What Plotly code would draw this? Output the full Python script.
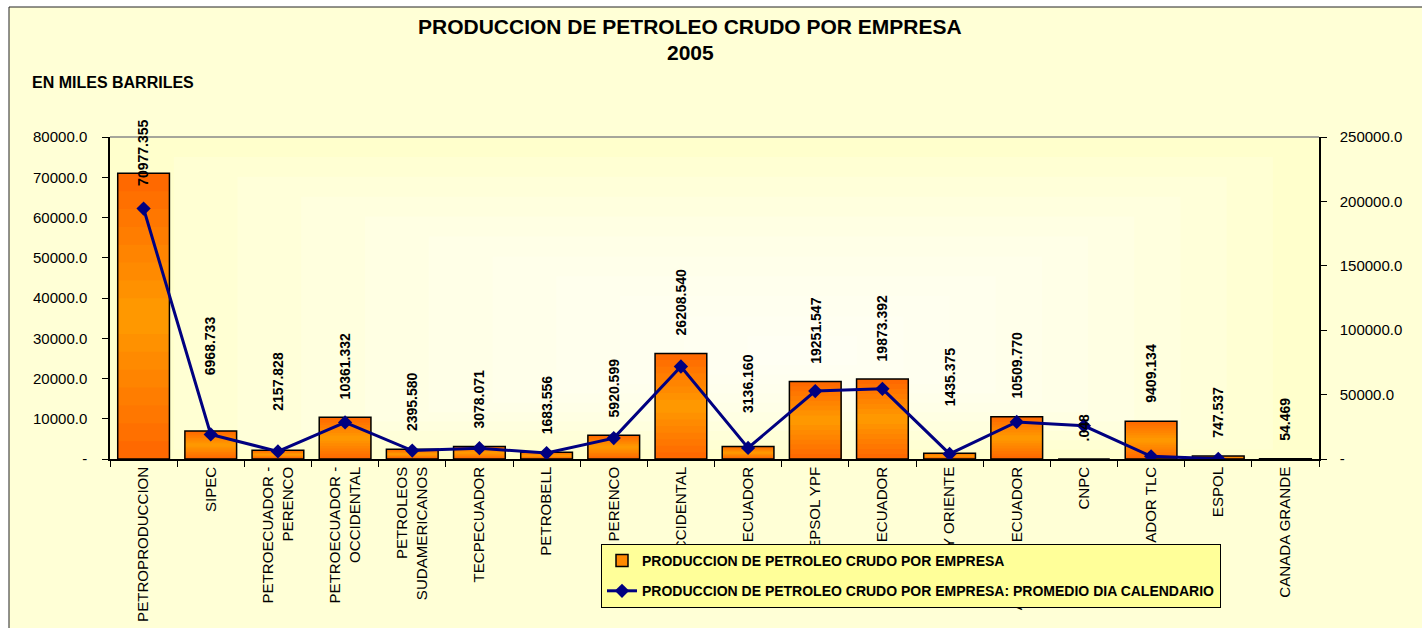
import plotly.graph_objects as go

# ---------------- data ----------------
companies = [
    "PETROPRODUCCION", "SIPEC", "PETROECUADOR -<br>PERENCO", "PETROECUADOR -<br>OCCIDENTAL",
    "PETROLEOS<br>SUDAMERICANOS", "TECPECUADOR", "PETROBELL", "PERENCO", "OCCIDENTAL",
    "ENCAN ECUADOR", "REPSOL YPF", "ANDES ECUADOR", "CITY ORIENTE", "AGIP OIL ECUADOR",
    "CNPC", "ECUADOR TLC", "ESPOL", "CANADA GRANDE",
]
produccion_miles_barriles = [
    70977.355, 6968.733, 2157.828, 10361.332, 2395.580, 3078.071, 1683.556, 5920.599,
    26208.540, 3136.160, 19251.547, 19873.392, 1435.375, 10509.770, 0.048, 9409.134,
    747.537, 54.469,
]
promedio_dia_calendario = [
    194458.5, 19092.4, 5911.9, 28387.2, 6563.2, 8433.1, 4612.5, 16220.8,
    71804.2, 8592.2, 52744.0, 54447.6, 3932.5, 28793.9, 25778.4, 2048.0,
    149.2, None,
]
left_tick_values = [0, 10000, 20000, 30000, 40000, 50000, 60000, 70000, 80000]
left_tick_labels = ["-", "10000.0", "20000.0", "30000.0", "40000.0", "50000.0",
                    "60000.0", "70000.0", "80000.0"]
right_tick_values = [0, 50000, 100000, 150000, 200000, 250000]
right_tick_labels = ["-", "50000.0", "100000.0", "150000.0", "200000.0", "250000.0"]

title_line1 = "PRODUCCION DE PETROLEO CRUDO POR EMPRESA"
title_line2 = "2005"
units_label = "EN MILES BARRILES"
bar_name = "PRODUCCION DE PETROLEO CRUDO POR EMPRESA"
line_name = "PRODUCCION DE PETROLEO CRUDO POR EMPRESA: PROMEDIO DIA CALENDARIO"

# ---------------- style ----------------
FONT = "Arial, Liberation Sans, Helvetica, sans-serif"
W, H = 1422, 628
ML, MR, MT, MB = 110, 103, 137, 169
PW, PH = W - ML - MR, H - MT - MB

def px_x(p):
    return (p - ML) / PW

def px_y(p):
    return (H - MB - p) / PH

label_gap = 16
label_gap_override = {0: -15, 1: 54, 2: 38, 9: 31, 12: 45}

DARK = (255, 102, 0)
LIGHT = (255, 155, 0)
N_BANDS = 16

def grad_color(t):
    # t: relative height in bar (0 bottom .. 1 top); light in middle, dark at ends
    a = min(1.0, abs(t - 0.5) * 2)
    r = [round(LIGHT[i] + (DARK[i] - LIGHT[i]) * a) for i in range(3)]
    return f"rgb({r[0]},{r[1]},{r[2]})"

def fmt(v):
    s = f"{v:.3f}"
    if s.startswith("0."):
        s = s[1:]
    return s

fig = go.Figure()

# gradient-filled bars: nested bars from the full value down, each in a band colour
for k in range(N_BANDS):
    frac = (N_BANDS - k) / N_BANDS
    t_mid = (N_BANDS - k - 0.5) / N_BANDS
    fig.add_trace(go.Bar(
        x=companies, y=[v * frac for v in produccion_miles_barriles],
        marker=dict(color=grad_color(t_mid), line=dict(width=0)),
        showlegend=False, hoverinfo="skip", yaxis="y",
    ))
# outline
fig.add_trace(go.Bar(
    x=companies, y=produccion_miles_barriles, name=bar_name,
    marker=dict(color="rgba(0,0,0,0)", line=dict(color="black", width=1.5)),
    legendgroup="a", yaxis="y", showlegend=False,
))
# legend entry for the bars (no visible mark)
fig.add_trace(go.Bar(
    x=[companies[0]], y=[None], name=bar_name,
    marker=dict(color="#FF8A00", line=dict(color="black", width=1.5)),
    legendgroup="a", yaxis="y", showlegend=True, hoverinfo="skip",
))
fig.add_trace(go.Scatter(
    x=companies, y=promedio_dia_calendario, name=line_name, yaxis="y2",
    mode="lines+markers", line=dict(color="#000080", width=3),
    marker=dict(symbol="diamond", size=11, color="#000080"),
    legendgroup="b", connectgaps=False,
))

annotations = []
for i, (c, v) in enumerate(zip(companies, produccion_miles_barriles)):
    annotations.append(dict(
        x=c, y=v, xref="x", yref="y", text=fmt(v), showarrow=False,
        textangle=-90, xanchor="center", yanchor="bottom",
        yshift=label_gap_override.get(i, label_gap),
        font=dict(family=FONT, size=14, color="black", weight="bold"),
    ))

annotations += [
    dict(x=px_x(690), y=px_y(27), xref="paper", yref="paper", text=title_line1,
         showarrow=False, xanchor="center", yanchor="middle",
         font=dict(family=FONT, size=21, color="black", weight="bold")),
    dict(x=px_x(690), y=px_y(52), xref="paper", yref="paper", text=title_line2,
         showarrow=False, xanchor="center", yanchor="middle",
         font=dict(family=FONT, size=21, color="black", weight="bold")),
    dict(x=px_x(30), y=px_y(82), xref="paper", yref="paper", text=units_label,
         showarrow=False, xanchor="left", yanchor="middle",
         font=dict(family=FONT, size=16, color="black", weight="bold")),
]

shapes = [
    dict(type="rect", xref="paper", yref="paper", x0=px_x(9), x1=px_x(W + 20),
         y0=px_y(H + 20), y1=px_y(7), fillcolor="#FFFFD6",
         line=dict(color="#222222", width=1), layer="below"),
    dict(type="rect", xref="paper", yref="paper", x0=0, x1=1, y0=0, y1=1,
         fillcolor="#FFFFCC", line=dict(width=0), layer="below"),
]
# soft radial-ish whitening toward the centre of the plot area
CX, CY, STEPS = 0.58, 0.32, 10
for k in range(1, STEPS + 1):
    s = 1 - k / (STEPS + 1)
    shapes.append(dict(
        type="rect", xref="paper", yref="paper",
        x0=CX - CX * s, x1=CX + (1 - CX) * s, y0=CY - CY * s, y1=CY + (1 - CY) * s,
        fillcolor="rgba(255,255,255,0.15)", line=dict(width=0), layer="below",
    ))
shapes.append(dict(type="line", xref="paper", yref="paper", x0=0, x1=1, y0=1, y1=1,
                   line=dict(color="#888888", width=1.5), layer="below"))

fig.update_layout(
    width=W, height=H,
    margin=dict(l=ML, r=MR, t=MT, b=MB, pad=0, autoexpand=False),
    paper_bgcolor="white", plot_bgcolor="rgba(0,0,0,0)",
    font=dict(family=FONT, color="black"),
    barmode="overlay", bargap=0.23,
    showlegend=True,
    legend=dict(
        x=px_x(601), y=px_y(544), xanchor="left", yanchor="top",
        bgcolor="#FFFF99", bordercolor="black", borderwidth=1,
        font=dict(family=FONT, size=14, color="black", weight="bold"),
        tracegroupgap=9, traceorder="grouped",
    ),
    xaxis=dict(
        type="category", categoryorder="array", categoryarray=companies,
        range=[-0.5, len(companies) - 0.5], automargin=False,
        tickangle=-90, showline=True, linecolor="black", linewidth=1.5,
        ticks="outside", ticklen=6, tickcolor="black", tickson="boundaries",
        tickfont=dict(family=FONT, size=15.1, color="black"), showgrid=False,
    ),
    yaxis=dict(
        range=[0, 80000], tickvals=left_tick_values, ticktext=left_tick_labels,
        automargin=False,
        showline=True, linecolor="black", linewidth=1.5, ticks="outside", ticklen=6,
        tickcolor="black", tickfont=dict(family=FONT, size=15, color="black"),
        ticklabelstandoff=12, showgrid=False, zeroline=False,
    ),
    yaxis2=dict(
        range=[0, 250000], tickvals=right_tick_values, ticktext=right_tick_labels,
        automargin=False,
        overlaying="y", side="right", showline=True, linecolor="black", linewidth=1.5,
        ticks="outside", ticklen=6, tickcolor="black",
        tickfont=dict(family=FONT, size=15, color="black"),
        ticklabelstandoff=10, showgrid=False, zeroline=False,
    ),
    annotations=annotations,
    shapes=shapes,
)

fig.write_html("out.html", config={"displayModeBar": False},
               post_script="document.body.style.margin='0';")
